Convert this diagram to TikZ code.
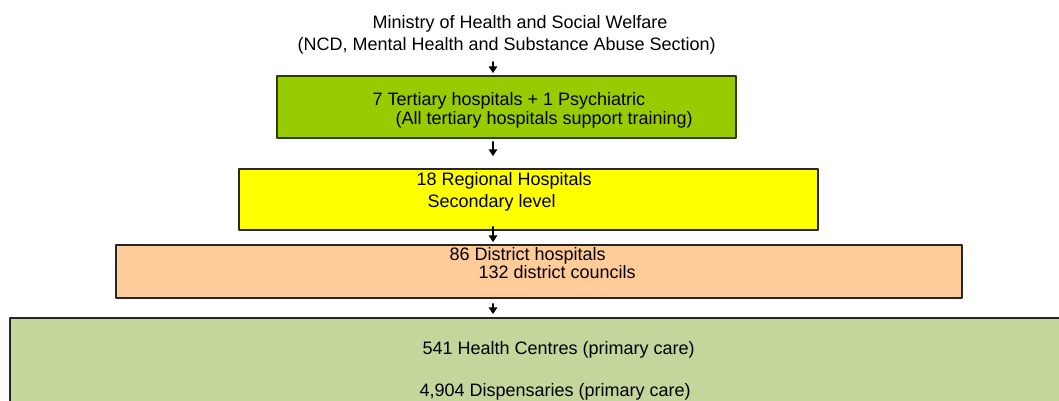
\documentclass[tikz,border=0pt]{standalone}
\usepackage{fontspec}
\setmainfont{Liberation Sans}
\usetikzlibrary{arrows.meta}
\definecolor{tertgreen}{RGB}{153,204,0}
\definecolor{regyellow}{RGB}{255,255,0}
\definecolor{distpeach}{RGB}{255,204,153}
\definecolor{primgreen}{RGB}{195,214,155}
\tikzset{
  box/.style={draw=black!85,line width=0.5pt,inner sep=0pt},
  txt/.style={anchor=base west,inner sep=0pt,font=\fontsize{5.12pt}{6pt}\selectfont},
  arr/.style={-{Triangle[length=1.9pt,width=2.4pt]},line width=0.45pt}
}

\begin{document}
\begin{tikzpicture}[line cap=round,line join=round,x=1.0cm,y=1.0cm]
			\useasboundingbox (0,0) rectangle (10.59,-4.);
			\clip (0,0) rectangle (10.59,-4.);
			\coordinate (spine) at (4.93,0);
			% heading
			\node[txt] (title1) at (3.72,-0.28) {Ministry of Health and Social Welfare};
			\node[txt] (title2) at (2.97,-0.50) {(NCD, Mental Health and Substance Abuse Section)};
			% the four levels
			\node[box,draw=black!70!tertgreen,fill=tertgreen,minimum width=4.59cm,minimum height=0.62cm] (tertiary) at (5.065,-1.07) {};
			\node[box,fill=regyellow,minimum width=5.79cm,minimum height=0.61cm] (regional) at (5.285,-1.995) {};
			\node[box,fill=distpeach,minimum width=8.46cm,minimum height=0.53cm] (district) at (5.39,-2.715) {};
			\node[box,fill=primgreen,minimum width=10.6cm,minimum height=0.92cm] (primary) at (5.40,-3.64) {};
			\node[txt] (tert1) at (3.72,-1.05) {7 Tertiary hospitals + 1 Psychiatric};
			\node[txt] (tert2) at (3.95,-1.24) {(All tertiary hospitals support training)};
			\node[txt] (reg1) at (4.16,-1.85) {18 Regional Hospitals};
			\node[txt] (reg2) at (4.27,-2.07) {Secondary level};
			\node[txt] (dist1) at (4.49,-2.60) {86 District hospitals};
			\node[txt] (dist2) at (4.78,-2.78) {132 district councils};
			\node[txt] (prim1) at (4.22,-3.54) {541 Health Centres (primary care)};
			\node[txt] (prim2) at (4.19,-3.96) {4,904 Dispensaries (primary care)};
			% arrows down the spine
			\draw[arr] ([yshift=-0.12cm]title2.base -| spine) -- ([yshift=0.02cm]tertiary.north -| spine);
			\draw[arr] ([yshift=-0.03cm]tertiary.south -| spine) -- ([yshift=0.12cm]regional.north -| spine);
			\draw[arr] ([yshift=0.04cm]regional.south -| spine) -- ([yshift=0.02cm]district.north -| spine);
			\draw[arr] ([yshift=-0.05cm]district.south -| spine) -- ([yshift=0.03cm]primary.north -| spine);
		\end{tikzpicture}
\end{document}
